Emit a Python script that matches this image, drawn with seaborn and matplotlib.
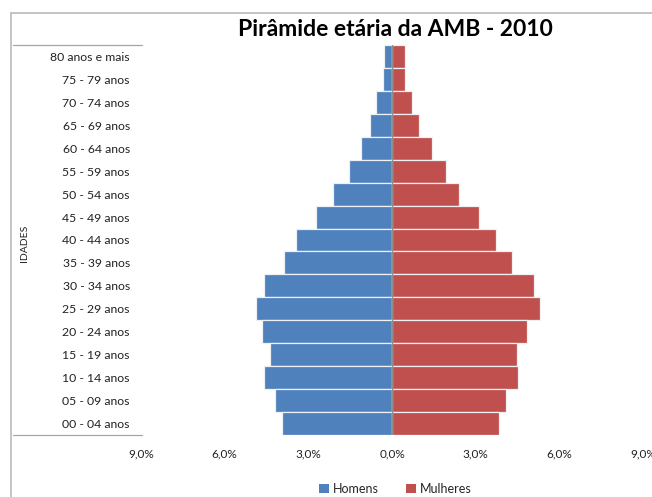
import matplotlib
matplotlib.use("Agg")
import matplotlib.pyplot as plt
import seaborn as sns
import pandas as pd
from matplotlib.patches import Patch
from matplotlib.lines import Line2D

ages = ["80 anos e mais", "75 - 79 anos", "70 - 74 anos", "65 - 69 anos", "60 - 64 anos",
        "55 - 59 anos", "50 - 54 anos", "45 - 49 anos", "40 - 44 anos", "35 - 39 anos",
        "30 - 34 anos", "25 - 29 anos", "20 - 24 anos", "15 - 19 anos", "10 - 14 anos",
        "05 - 09 anos", "00 - 04 anos"]
homens = [0.29, 0.32, 0.57, 0.80, 1.10, 1.55, 2.11, 2.71, 3.43, 3.87,
          4.59, 4.89, 4.66, 4.36, 4.59, 4.20, 3.94]
mulheres = [0.47, 0.47, 0.73, 0.98, 1.43, 1.92, 2.41, 3.12, 3.72, 4.31,
            5.09, 5.32, 4.84, 4.47, 4.51, 4.09, 3.84]
xticks = [-9, -6, -3, 0, 3, 6, 9]
xticklabels = ["9,0%", "6,0%", "3,0%", "0,0%", "3,0%", "6,0%", "9,0%"]

df = pd.concat([
    pd.DataFrame({"idade": ages, "valor": [-v for v in homens], "sexo": "Homens"}),
    pd.DataFrame({"idade": ages, "valor": mulheres, "sexo": "Mulheres"}),
])

sns.set_theme(style="white")
plt.rcParams["font.family"] = ["Lato", "DejaVu Sans"]

W, H = 652, 497
fig = plt.figure(figsize=(W / 100, H / 100), dpi=100)
ax = fig.add_axes([141 / W, 1 - 435 / H, 502 / W, 390 / H])

blue = "#4F81BD"
red = "#C0504D"
sns.barplot(data=df, x="valor", y="idade", hue="sexo", order=ages,
            palette={"Homens": blue, "Mulheres": red}, dodge=False, width=1.0,
            saturation=1, orient="h", edgecolor="#EEF0F4", linewidth=0.9,
            legend=False, ax=ax)

ax.set_xlim(-9, 9)
ax.set_ylim(len(ages) - 0.5, -0.5)
ax.set_xticks(xticks)
ax.set_xticklabels(xticklabels, fontsize=8.5, color="#222222")
ax.tick_params(axis="x", length=0, pad=10)
ax.tick_params(axis="y", length=0, pad=8, labelsize=8.8, labelcolor="#222222")
ax.set_xlabel("")
ax.set_ylabel("")
for s in ax.spines.values():
    s.set_visible(False)
ax.axvline(0, color="#8C8C8C", lw=1.0, zorder=5)

fig.text(395 / W, 1 - 29 / H, "Pirâmide etária da AMB - 2010", ha="center", va="center",
         fontsize=16.5, fontweight="bold", color="black")
fig.text(24 / W, 1 - 243 / H, "IDADES", rotation=90, ha="center", va="center",
         fontsize=7.5, color="#222222")

# chart border (cropped)
fig.add_artist(Line2D([11 / W, 1], [1 - 13 / H, 1 - 13 / H], transform=fig.transFigure,
                      color="#BFBFBF", lw=1.3))
fig.add_artist(Line2D([11 / W, 11 / W], [0, 1 - 13 / H], transform=fig.transFigure,
                      color="#BFBFBF", lw=1.3))
# category axis separators
for yy in (45, 435):
    fig.add_artist(Line2D([13 / W, 142 / W], [1 - yy / H, 1 - yy / H], transform=fig.transFigure,
                          color="#A6A6A6", lw=0.9))

handles = [Patch(facecolor=blue, edgecolor="none", label="Homens"),
           Patch(facecolor=red, edgecolor="none", label="Mulheres")]
fig.legend(handles=handles, loc="center", bbox_to_anchor=(395 / W, 1 - 489 / H), ncol=2,
           frameon=False, fontsize=9, handlelength=0.8, handleheight=0.8,
           handletextpad=0.3, columnspacing=2.2, borderpad=0.1)

fig.savefig("out.png", dpi=100)
